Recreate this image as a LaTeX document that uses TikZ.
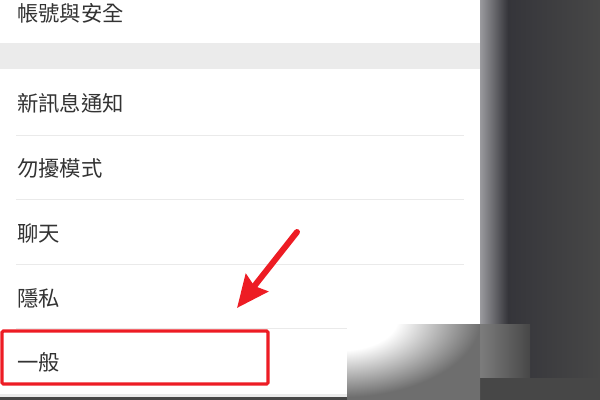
\documentclass[tikz,border=0pt]{standalone}
\usepackage{fontspec}
\setmainfont{Noto Sans CJK TC}
\usetikzlibrary{arrows.meta}
\definecolor{itemtext}{HTML}{333333}
\definecolor{bandgray}{HTML}{EBEBEB}
\definecolor{sepgray}{HTML}{EAEAEA}
\definecolor{markred}{HTML}{ED1C24}
\definecolor{paneledge}{HTML}{9A9A9E}
\definecolor{paneldark}{HTML}{35353A}
\definecolor{panelright}{HTML}{474747}
\definecolor{fadegray}{HTML}{6E6E6E}
\pgfdeclareradialshading{cornerfade}{\pgfpoint{0bp}{0bp}}{%
  color(0bp)=(white); color(9bp)=(white); color(22bp)=(fadegray); color(50bp)=(fadegray)}
\tikzset{
  item/.style={anchor=west, inner sep=0pt, text=itemtext,
    font=\fontsize{16pt}{18pt}\selectfont},
  sepline/.style={draw=sepgray, line width=0.75pt},
  redbox/.style={draw=markred, line width=2.3pt, rounded corners=1pt},
  redarrow/.style={draw=markred, line width=4.5pt, line cap=round,
    -{Stealth[length=24pt, width=21pt, inset=3pt]}}
}
\begin{document}
\begin{tikzpicture}[x=0.75pt,y=-0.75pt]
\useasboundingbox (0,0) rectangle (600,400);
\fill[white] (0,0) rectangle (600,400);
\fill[bandgray] (0,43) rectangle (480,69);
\fill[bandgray] (0,394) rectangle (347,397);
\fill[panelright] (0,397) rectangle (347,400);
% menu items
\node[item] (acct) at (17,13) {帳號與安全};
\node[item] (notify) at (17,103) {新訊息通知};
\node[item] (dnd) at (17,168) {勿擾模式};
\node[item] (chat) at (17,233) {聊天};
\node[item] (privacy) at (17,298) {隱私};
\node[item] (general) at (17,362) {一般};
\draw[sepline] (16,135) -- (464,135);
\draw[sepline] (16,199) -- (464,199);
\draw[sepline] (16,264) -- (464,264);
\draw[sepline] (16,328) -- (464,328);
% dark panel on the right
\shade[left color=paneledge, right color=paneldark] (480,0) rectangle (508,378);
\shade[left color=paneldark, right color=panelright] (508,0) rectangle (600,378);
\shade[left color=fadegray!90, right color=panelright] (480,324) rectangle (530,378);
\fill[panelright] (480,378) rectangle (600,400);
% faded corner below the list
\begin{scope}
\clip (347,324) rectangle (480,400);
\shade[shading=cornerfade] (180,228) rectangle (500,408);
\end{scope}
% highlight
\draw[redbox] (2,331) rectangle (268,384);
\coordinate (tail) at (297,232);
\coordinate (tip) at (237,308);
\draw[redarrow] (tail) -- (tip);
\end{tikzpicture}
\end{document}
